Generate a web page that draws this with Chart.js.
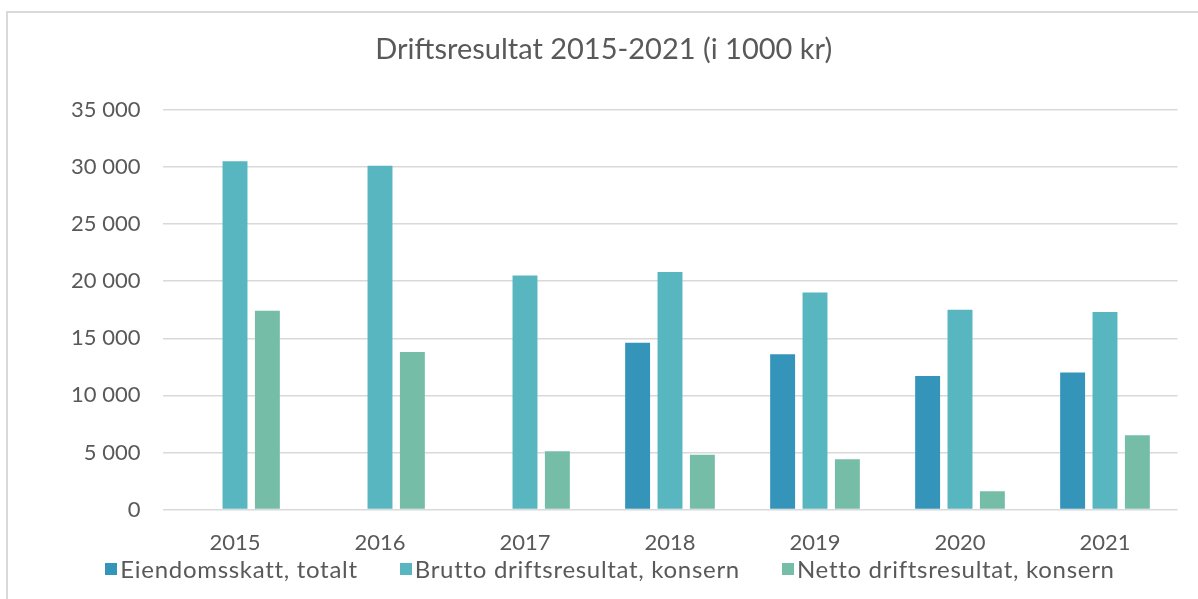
<!DOCTYPE html>
<html>
<head>
<meta charset="utf-8">
<script src="https://cdn.jsdelivr.net/npm/chart.js@4"></script>
<style>
    html, body { margin: 0; padding: 0; background: #fff; }
    #frame {
        position: absolute;
        left: 6px; top: 11px;
        width: 1192px; height: 588px;
        border-left: 2px solid #d9d9d9;
        border-top: 2px solid #d9d9d9;
    }
    #wrap { position: absolute; left: 0; top: 0; width: 1190px; height: 586px; }
    #legend {
        position: absolute;
        left: 22px; top: 556px; width: 1176px; height: 26px;
        display: flex; justify-content: center; gap: 42px;
        font-family: Lato, "Open Sans", sans-serif;
        font-size: 24px; letter-spacing: 0.7px; line-height: 26px;
        color: #595959;
    }
    #legend .item { display: flex; align-items: center; white-space: nowrap; }
    #legend .box { width: 12px; height: 12px; margin-right: 3px; }
</style>
</head>
<body>
<div id="frame"><div id="wrap"><canvas id="chart"></canvas></div></div>
<div id="legend"></div>
<script>
const years = ['2015', '2016', '2017', '2018', '2019', '2020', '2021'];
const eiendomsskatt = [null, null, null, 14600, 13600, 11700, 12000];
const bruttoResultat = [30500, 30100, 20500, 20800, 19000, 17500, 17300];
const nettoResultat = [17400, 13800, 5100, 4800, 4400, 1600, 6500];
const seriesNames = ['Eiendomsskatt, totalt', 'Brutto driftsresultat, konsern', 'Netto driftsresultat, konsern'];
const seriesColors = ['#3494ba', '#58b6c0', '#75bda7'];

const FONT = 'Lato, "Open Sans", sans-serif';
const TEXT = '#595959';

function fmt(v) {
    return String(v).replace(/\B(?=(\d{3})+(?!\d))/g, ' ');
}

const datasets = [eiendomsskatt, bruttoResultat, nettoResultat].map((data, i) => ({
    label: seriesNames[i],
    data,
    backgroundColor: seriesColors[i],
    borderWidth: 0,
    barPercentage: 0.77,
    categoryPercentage: 0.67
}));

const chart = new Chart(document.getElementById('chart'), {
    type: 'bar',
    data: { labels: years, datasets },
    options: {
        responsive: true,
        maintainAspectRatio: false,
        animation: false,
        layout: { padding: { left: 22, right: 20.5, top: 0, bottom: 23 } },
        plugins: {
            title: {
                display: true,
                text: 'Driftsresultat 2015-2021 (i 1000 kr)',
                color: TEXT,
                font: { family: FONT, size: 29, weight: 'normal' },
                padding: { top: 19, bottom: 43 }
            },
            legend: { display: false },
            tooltip: { enabled: false }
        },
        scales: {
            x: {
                grid: { display: false, drawTicks: false },
                border: { display: false },
                ticks: { color: TEXT, font: { family: FONT, size: 22 }, padding: 20 }
            },
            y: {
                min: 0,
                max: 35000,
                grid: { color: '#d9d9d9', lineWidth: 1.5, drawTicks: false },
                border: { display: false },
                ticks: {
                    stepSize: 5000,
                    color: TEXT,
                    font: { family: FONT, size: 22 },
                    padding: 22,
                    callback: v => fmt(v)
                },
                afterFit: s => { s.width = 132.5; }
            }
        }
    }
});

// Legend built from the chart's own datasets
const legendEl = document.getElementById('legend');
chart.data.datasets.forEach(ds => {
    const item = document.createElement('div');
    item.className = 'item';
    item.innerHTML = `<span class="box" style="background:${ds.backgroundColor}"></span><span>${ds.label}</span>`;
    legendEl.appendChild(item);
});
</script>
</body>
</html>
